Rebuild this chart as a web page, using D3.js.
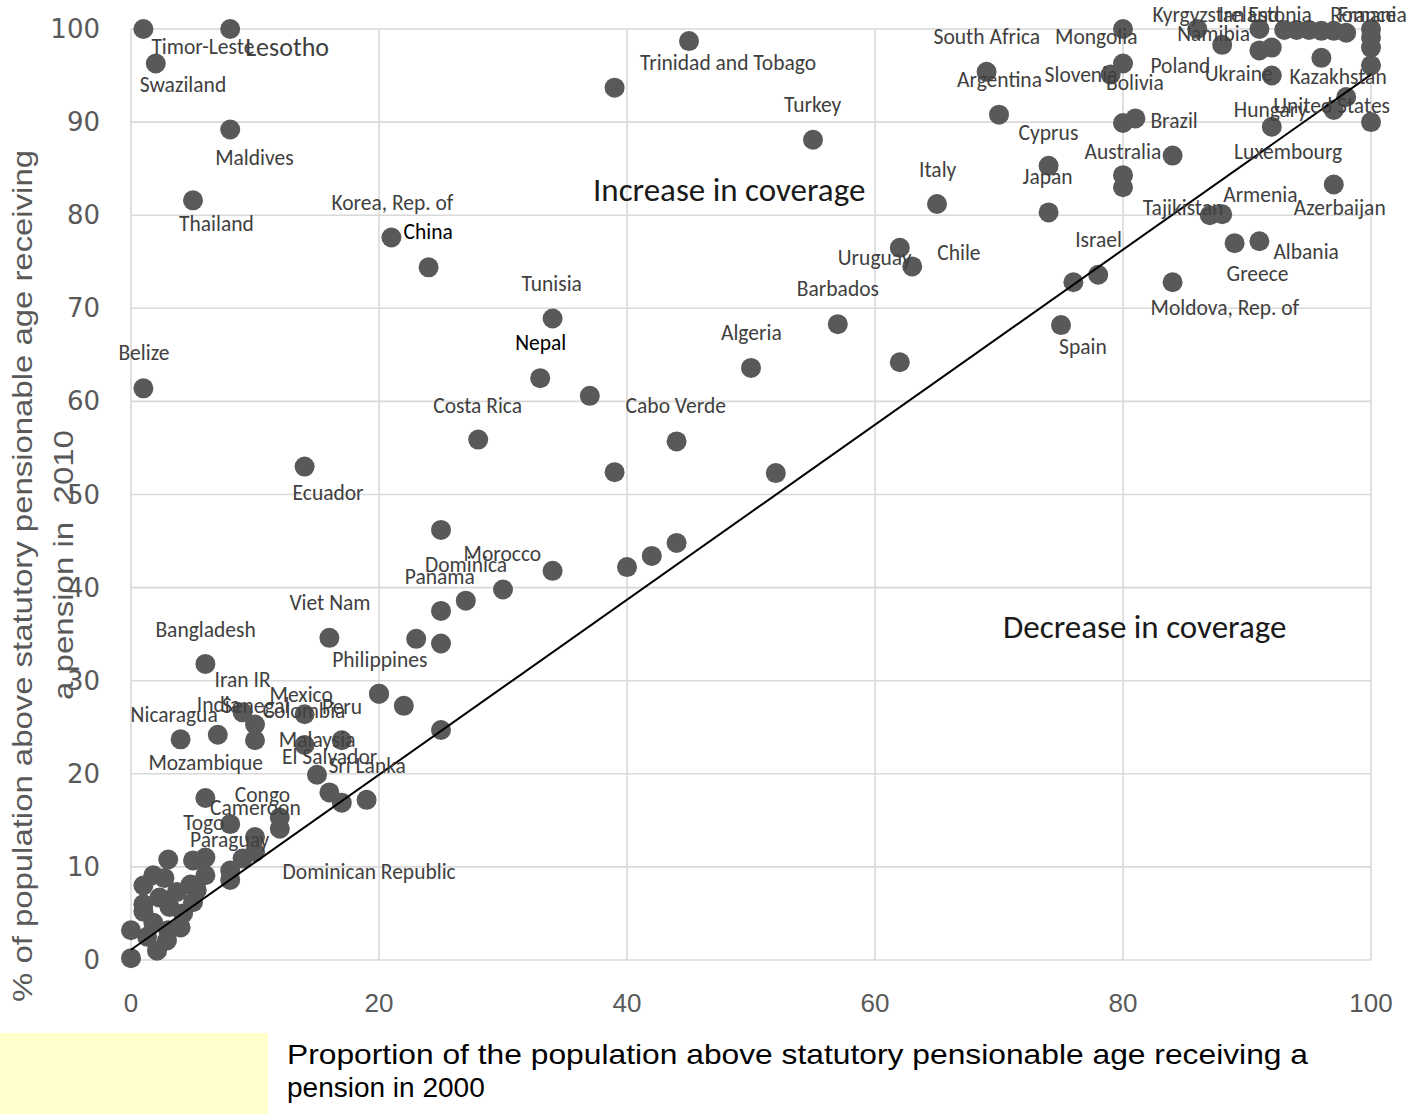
<!DOCTYPE html>
<html>
<head>
<meta charset="utf-8">
<script src="https://cdn.jsdelivr.net/npm/d3@7"></script>
<style>
  html, body { margin: 0; padding: 0; background: #ffffff; }
  svg { display: block; }
</style>
</head>
<body>
<svg id="chart" width="1411" height="1114"></svg>
<script>
// ---------------- DATA ----------------
// Coverage 2000 (x) and 2010 (y), % of population above pensionable age receiving a pension
const countries = [
  "Timor-Leste","Lesotho","Swaziland","Maldives","Thailand","Korea, Rep. of","China","Belize","Ecuador",
  "Trinidad and Tobago","","Turkey","Tunisia","Nepal","","Costa Rica","","Cabo Verde","Algeria","Barbados","",
  "","Morocco","","Panama","Dominica","Philippines","","Viet Nam","","","",
  "","","","Bangladesh","Nicaragua","India","Iran IR","Senegal","","Mexico","Colombia","Malaysia","Peru",
  "El Salvador","Sri Lanka","","Dominican Republic","Mozambique","Togo","Cameroon","Congo","","Paraguay","","","",
  "South Africa","Argentina","Mongolia","Bolivia","Slovenia","Cyprus","Japan","Brazil","","Australia","","",
  "Italy","Uruguay","Chile","Israel","","Spain","",
  "Kyrgyzstan","Namibia","Ireland","Estonia","","","","","Romania","France","","","",
  "Poland","","Ukraine","Kazakhstan","United States","","Hungary","Luxembourg","Azerbaijan","Tajikistan","Armenia",
  "Albania","Greece","Moldova, Rep. of",
  "","","","","","","","","","","","","","","","","","","","","","","",""
];
const coverage2000 = [
  1, 8, 2, 8, 5, 21, 24, 1, 14,
  45, 39, 55, 34, 33, 37, 28, 39, 44, 50, 57, 52,
  25, 34, 25, 27, 30, 23, 25, 16, 40, 42, 44,
  20, 22, 25, 6, 4, 7, 9, 10, 10, 14, 14, 17, 20,
  15, 16, 17, 19, 6, 8, 10, 12, 12, 10, 9, 8, 8,
  69, 70, 80, 80, 79, 74, 74, 81, 80, 84, 80, 80,
  65, 62, 63, 78, 76, 75, 62,
  86, 88, 91, 93, 94, 95, 96, 97, 98, 100, 100, 100, 100,
  91, 92, 92, 96, 98, 97, 92, 100, 97, 87, 88,
  91, 89, 84,
  3, 5, 6, 1.8, 1, 2.7, 6, 4.8, 3.7, 5.3, 1, 1, 2.3, 3.1, 4.2, 5, 4, 3, 1.8, 0, 1.3, 2.1, 0, 2.9
];
const coverage2010 = [
  100, 100, 96.3, 89.2, 81.6, 77.6, 74.4, 61.4, 53,
  98.7, 93.7, 88.1, 68.9, 62.5, 60.6, 55.9, 52.4, 55.7, 63.6, 68.3, 52.3,
  46.2, 41.8, 37.5, 38.6, 39.8, 34.5, 34, 34.6, 42.2, 43.4, 44.8,
  28.6, 27.3, 24.7, 31.8, 23.7, 24.2, 26.6, 25.3, 23.6, 26.4, 23.1, 23.6, 28.6,
  19.9, 18, 16.9, 17.2, 17.4, 14.6, 13.2, 15.3, 14.1, 11.6, 10.9, 9.6, 8.6,
  95.4, 90.8, 100, 96.3, 95.1, 85.3, 80.3, 90.4, 89.9, 86.4, 84.3, 83,
  81.2, 76.5, 74.5, 73.6, 72.8, 68.2, 64.2,
  100, 98.3, 100, 99.9, 99.9, 99.9, 99.8, 99.8, 99.6, 100, 99.1, 98, 96.1,
  97.7, 98, 95, 96.9, 92.7, 91.3, 89.5, 90, 83.3, 80, 80.1,
  77.2, 77, 72.8,
  10.8, 10.7, 11, 9.1, 8, 8.8, 9.1, 8.1, 7.3, 7.5, 6, 5.2, 6.7, 5.7, 5, 6.2, 3.5, 3.2, 4, 3.2, 2.5, 1, 0.2, 2.1
];
const xTicks = [0, 20, 40, 60, 80, 100];
const yTicks = [0, 10, 20, 30, 40, 50, 60, 70, 80, 90, 100];
const trendX = [0, 100];
const trendY = [1.1, 95.1];
const xTitle = ["Proportion of the population above statutory pensionable age receiving a", "pension in 2000"];
const yTitle = ["% of population above statutory pensionable age receiving", "a pension in  2010"];
const notes = ["Increase in coverage", "Decrease in coverage"];

// ---------------- LAYOUT (label placement in px relative to point) ----------------
const labelOffset = {
  "Timor-Leste":[8,18],"Lesotho":[15,18],"Swaziland":[-16,22],"Maldives":[-15,28],"Thailand":[-14,24],
  "Korea, Rep. of":[-60,-35],"China":[-25,-35],"Belize":[-25,-35],"Ecuador":[-12,26],
  "Trinidad and Tobago":[-49,22],"Turkey":[-29,-35],"Tunisia":[-31,-35],"Nepal":[-25,-35],
  "Costa Rica":[-45,-34],"Cabo Verde":[-51,-35],"Algeria":[-30,-35],"Barbados":[-41,-35],
  "Morocco":[-89,-17],"Panama":[-61,-24],"Dominica":[-78,-24],"Philippines":[-84,21],"Viet Nam":[-40,-35],
  "Bangladesh":[-50,-34],"Nicaragua":[-50,-24],"India":[-21,-30],"Iran IR":[-28,-32],"Senegal":[-33,-18],
  "Mexico":[-35,-19],"Colombia":[-42,-34],"Malaysia":[-63,0],"Peru":[-57,13],
  "El Salvador":[-35,-18],"Sri Lanka":[-1,-26],"Dominican Republic":[-84,72],"Mozambique":[-57,-35],
  "Togo":[-47,-1],"Cameroon":[-45,-29],"Congo":[-45,-23],"Paraguay":[-65,-12],
  "South Africa":[-53,-35],"Argentina":[-42,-35],"Mongolia":[-68,8],"Bolivia":[-17,20],"Slovenia":[-66,0],
  "Cyprus":[-30,-33],"Japan":[-26,-35],"Brazil":[15,3],"Australia":[-88,-4],
  "Italy":[-18,-34],"Uruguay":[-62,10],"Chile":[25,-13],"Israel":[-23,-35],"Spain":[-2,22],
  "Kyrgyzstan":[-45,-14],"Namibia":[-45,-11],"Ireland":[-41,-14],"Estonia":[-36,-15],
  "Romania":[-16,-18],"France":[-33,-14],"Poland":[-109,16],"Ukraine":[-67,-2],"Kazakhstan":[-32,19],
  "United States":[-73,9],"Hungary":[-38,-17],"Luxembourg":[-137,30],"Azerbaijan":[-40,24],
  "Tajikistan":[-67,-7],"Armenia":[1,-19],"Albania":[14,11],"Greece":[-8,31],"Moldova, Rep. of":[-22,26]
};
const blackLabels = ["China","Nepal"];
const bigLabels = ["Lesotho"];

// ---------------- DRAW ----------------
const svg = d3.select("#chart");
const x = d3.scaleLinear().domain([0, 100]).range([131, 1371]);
const y = d3.scaleLinear().domain([0, 100]).range([960, 29]);

const labelFont = "Carlito, Calibri, Lato, 'Open Sans', sans-serif";
const axisFont = "'Liberation Sans', Arial, sans-serif";

// gridlines
const grid = svg.append("g");
grid.selectAll("line.h").data(yTicks).enter().append("line")
  .attr("x1", x(0)).attr("x2", x(100))
  .attr("y1", d => y(d)).attr("y2", d => y(d))
  .attr("stroke", "#d9d9d9").attr("stroke-width", 1.6);
grid.selectAll("line.v").data(xTicks).enter().append("line")
  .attr("y1", y(0)).attr("y2", y(100))
  .attr("x1", d => x(d)).attr("x2", d => x(d))
  .attr("stroke", "#d9d9d9").attr("stroke-width", 1.6);

// tick labels
svg.append("g").selectAll("text").data(yTicks).enter().append("text")
  .attr("x", 100).attr("y", d => y(d))
  .attr("text-anchor", "end").attr("dominant-baseline", "central")
  .attr("font-family", "'DejaVu Sans', Verdana, sans-serif").attr("font-size", 26)
  .attr("fill", "#595959").text(d => d);
svg.append("g").selectAll("text").data(xTicks).enter().append("text")
  .attr("x", d => x(d)).attr("y", 1003)
  .attr("text-anchor", "middle").attr("dominant-baseline", "central")
  .attr("font-family", axisFont).attr("font-size", 26)
  .attr("fill", "#595959").text(d => d);

// points
const pts = coverage2000.map((v, i) => ({x: v, y: coverage2010[i], name: countries[i] || ""}));
svg.append("g").selectAll("circle").data(pts).enter().append("circle")
  .attr("cx", d => x(d.x)).attr("cy", d => y(d.y)).attr("r", 10)
  .attr("fill", "#595959");

// trend line
const line = d3.line().x(d => x(d[0])).y(d => y(d[1]));
svg.append("path").datum(trendX.map((v, i) => [v, trendY[i]]))
  .attr("d", line).attr("stroke", "#000").attr("stroke-width", 2).attr("fill", "none");

// labels
svg.append("g").selectAll("text").data(pts.filter(d => d.name && labelOffset[d.name])).enter().append("text")
  .attr("x", d => x(d.x) + labelOffset[d.name][0])
  .attr("y", d => y(d.y) + labelOffset[d.name][1])
  .attr("dominant-baseline", "central")
  .attr("font-family", labelFont)
  .attr("font-size", d => bigLabels.includes(d.name) ? 26 : 21.5)
  .attr("fill", d => blackLabels.includes(d.name) ? "#000" : "#404040")
  .text(d => d.name);

// annotations
svg.append("text").attr("x", 593).attr("y", 190).attr("dominant-baseline", "central")
  .attr("font-family", labelFont).attr("font-size", 33).attr("fill", "#1a1a1a").text(notes[0]);
svg.append("text").attr("x", 1003).attr("y", 627).attr("dominant-baseline", "central")
  .attr("font-family", labelFont).attr("font-size", 33).attr("fill", "#1a1a1a").text(notes[1]);

// y axis title
svg.append("text").attr("transform", "translate(22,576) rotate(-90)")
  .attr("text-anchor", "middle").attr("dominant-baseline", "central")
  .attr("font-family", axisFont).attr("font-size", 28)
  .attr("textLength", 852).attr("lengthAdjust", "spacingAndGlyphs")
  .attr("fill", "#595959").text(yTitle[0]);
svg.append("text").attr("transform", "translate(63,565) rotate(-90)")
  .attr("text-anchor", "middle").attr("dominant-baseline", "central")
  .attr("font-family", axisFont).attr("font-size", 28)
  .attr("textLength", 270).attr("lengthAdjust", "spacingAndGlyphs")
  .attr("fill", "#595959").style("white-space", "pre").text(yTitle[1]);

// yellow box
svg.append("rect").attr("x", 0).attr("y", 1033).attr("width", 268).attr("height", 81).attr("fill", "#ffffcc");

// x axis title
svg.append("text").attr("x", 287).attr("y", 1064).attr("font-family", axisFont).attr("font-size", 28)
  .attr("textLength", 1021).attr("lengthAdjust", "spacingAndGlyphs")
  .attr("fill", "#000").text(xTitle[0]);
svg.append("text").attr("x", 287).attr("y", 1097).attr("font-family", axisFont).attr("font-size", 28)
  .attr("fill", "#000").text(xTitle[1]);
</script>
</body>
</html>
